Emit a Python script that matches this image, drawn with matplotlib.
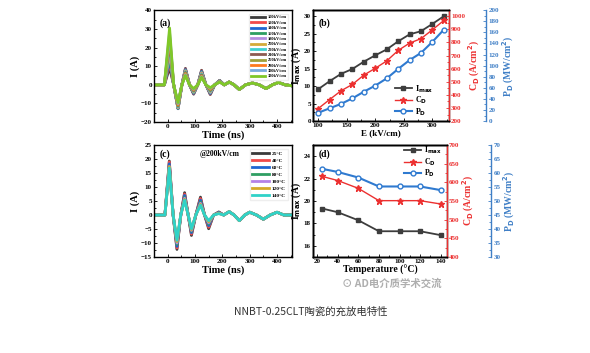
import numpy as np
import matplotlib
matplotlib.use('Agg')
import matplotlib.pyplot as plt
from matplotlib.lines import Line2D
from matplotlib.ticker import MultipleLocator

plt.rcParams['font.family'] = ['Liberation Serif', 'DejaVu Serif']
plt.rcParams['font.weight'] = 'bold'
plt.rcParams['axes.labelweight'] = 'bold'

# ---- panel (a): discharge waveforms at different fields ----
fields = ['100kV/cm', '120kV/cm', '140kV/cm', '160kV/cm', '180kV/cm', '200kV/cm',
          '220kV/cm', '240kV/cm', '260kV/cm', '280kV/cm', '300kV/cm', '320kV/cm']
colors_a = ['#3a3a3a', '#f04a4a', '#1f66d0', '#2e9e62', '#b48ee0', '#d4aa3a',
            '#40d0d0', '#8c5a50', '#a0a03a', '#ff7a1e', '#78aadc', '#80c828']
# extremes of each waveform (peak1, trough1, peak2, trough2, peak3, trough3, peak4)
ext_a = [
    [9.3, -12.7, 8.8, -5.0, 7.8, -5.2, 2.4],
    [11.5, -12.8, 8.5, -4.8, 7.5, -5.0, 2.3],
    [13.5, -12.8, 8.2, -4.6, 7.2, -4.7, 2.2],
    [15.0, -12.6, 7.9, -4.3, 6.9, -4.4, 2.2],
    [17.2, -12.4, 7.6, -4.0, 6.5, -4.1, 2.1],
    [19.0, -12.1, 7.3, -3.8, 6.1, -3.7, 2.0],
    [20.6, -11.8, 7.0, -3.5, 5.7, -3.4, 1.9],
    [23.0, -11.4, 6.6, -3.2, 5.3, -3.0, 1.8],
    [25.0, -11.0, 6.2, -2.9, 4.9, -2.6, 1.7],
    [26.0, -10.5, 5.8, -2.6, 4.6, -2.2, 1.6],
    [28.0, -10.0, 5.4, -2.3, 4.3, -1.8, 1.6],
    [30.5, -9.5, 5.0, -2.0, 4.0, -1.5, 1.5],
]
t_ext_a = [7, 38, 65, 95, 124, 156, 190]
t_zero_a = [-12, 22, 52, 80, 110, 140, 172, 207]
tail_t_a = [225, 243, 262, 285, 310, 335, 360, 383, 405, 430, 455]
tail_v_a = [1.5, 0, -2.5, 0, 1.0, 0, -2.0, 0, 1.3, 0, -0.5]

# ---- panel (b) ----
E = [100, 120, 140, 160, 180, 200, 220, 240, 260, 280, 300, 320]
Imax_b = [9.1, 11.4, 13.5, 14.9, 17.0, 18.8, 20.5, 22.8, 24.8, 25.7, 27.8, 30.0]
CD_b = [295, 364, 431, 480, 551, 603, 659, 739, 795, 829, 897, 968]
PD_b = [15, 23, 31, 41, 53, 64, 77, 94, 110, 123, 143, 165]

# ---- panel (c): waveforms at different temperatures ----
temps = ['25°C', '40°C', '60°C', '80°C', '100°C', '120°C', '140°C']
colors_c = ['#3a3a3a', '#f04a4a', '#1f66d0', '#2e9e62', '#b482e6', '#d4aa28', '#30d2c8']
ext_c = [
    [19.3, -12.3, 8.0, -7.3, 6.4, -4.9, 1.1],
    [19.0, -11.8, 7.5, -6.8, 5.9, -4.4, 1.0],
    [18.3, -11.2, 7.0, -6.3, 5.3, -3.8, 0.9],
    [17.3, -10.5, 6.3, -5.8, 4.6, -3.2, 0.8],
    [17.3, -10.0, 6.0, -5.5, 4.2, -2.8, 0.7],
    [17.3, -9.5, 5.6, -5.2, 3.8, -2.4, 0.6],
    [16.8, -9.0, 5.3, -4.9, 3.5, -2.0, 0.5],
]
t_ext_c = [6, 34, 62, 87, 120, 150, 187]
t_zero_c = [-10, 20, 48, 75, 103, 135, 168, 205]
tail_t_c = [225, 243, 262, 282, 300, 325, 350, 375, 400, 425, 455]
tail_v_c = [1.2, 0, -2.0, 0, 1.0, 0, -1.5, 0, 1.0, 0, 0]

# ---- panel (d) ----
T = [25, 40, 60, 80, 100, 120, 140]
Imax_d = [19.33, 19.0, 18.28, 17.3, 17.3, 17.3, 16.95]
CD_d = [616, 605, 584, 551, 551, 551, 542]
PD_d = [61.5, 60.4, 58.4, 55.2, 55.2, 55.2, 53.9]

RED = '#ec3030'
BLUE = '#2f7ad0'
BLUE_AX = '#3f7fc6'
TS = 5


def waveform(t_ext, t_zero, ext, tail_t, tail_v, t0=-50):
    t = [t0, t_zero[0]]
    v = [0, 0]
    for i in range(len(t_ext)):
        t += [t_ext[i], t_zero[i + 1]]
        v += [ext[i], 0]
    return t + tail_t, v + tail_v


def style(ax, labelcolor='black'):
    ax.tick_params(which='both', direction='in', labelsize=TS, pad=1.5,
                   colors=labelcolor, width=0.6)
    ax.tick_params(which='major', length=2.5)
    ax.tick_params(which='minor', length=1.5)
    for s in ax.spines.values():
        s.set_linewidth(1.0)


def add_lines(ax, ax2, ax3, x, i_vals, c_vals, p_vals):
    ax.plot(x, i_vals, color='#3d3d3d', lw=1.3, marker='s', ms=3.3)
    ax2.plot(x, c_vals, color=RED, lw=1.0, marker='*', ms=4.5)
    ax3.plot(x, p_vals, color=BLUE, lw=1.5, marker='o', ms=3.5, mfc='white', mew=1.0)


def legend_handles():
    return [Line2D([], [], color='#3d3d3d', lw=1.3, marker='s', ms=3.3),
            Line2D([], [], color=RED, lw=1.0, marker='*', ms=4.5),
            Line2D([], [], color=BLUE, lw=1.5, marker='o', ms=3.5, mfc='white', mew=1.0)]


leg_labels = [r'I$_{\mathbf{max}}$', r'C$_{\mathbf{D}}$', r'P$_{\mathbf{D}}$']

fig = plt.figure(figsize=(5.9, 3.53), dpi=100)

# (a)
ax_a = fig.add_axes([0.261, 0.654, 0.234, 0.317])
for i in range(len(fields)):
    t, v = waveform(t_ext_a, t_zero_a, ext_a[i], tail_t_a, tail_v_a)
    ax_a.plot(t, v, color=colors_a[i], lw=2.0, label=fields[i])
ax_a.set_xlim(-50, 455)
ax_a.set_ylim(-20, 40)
ax_a.xaxis.set_major_locator(MultipleLocator(100))
ax_a.xaxis.set_minor_locator(MultipleLocator(50))
ax_a.yaxis.set_major_locator(MultipleLocator(10))
ax_a.yaxis.set_minor_locator(MultipleLocator(5))
style(ax_a)
ax_a.set_xlabel('Time (ns)', fontsize=7.5, labelpad=1)
ax_a.set_ylabel('I (A)', fontsize=7.5, labelpad=1)
ax_a.text(0.04, 0.93, '(a)', transform=ax_a.transAxes, fontsize=7, va='top')
ax_a.legend(loc='upper right', fontsize=3.2, handlelength=3.2, handletextpad=0.5,
            labelspacing=0.28, borderpad=0.4, frameon=True, edgecolor='#eeeeee',
            fancybox=False, framealpha=1, bbox_to_anchor=(0.99, 0.99))

# (b)
ax_b = fig.add_axes([0.5305, 0.657, 0.2305, 0.314])
ax_b2 = ax_b.twinx()
ax_b3 = ax_b.twinx()
ax_b3.spines['right'].set_position(('outward', 27))
add_lines(ax_b, ax_b2, ax_b3, E, Imax_b, CD_b, PD_b)
ax_b.set_xlim(91, 329)
ax_b.set_ylim(0, 31.7)
ax_b2.set_ylim(200, 1046)
ax_b3.set_ylim(0, 200)
ax_b.xaxis.set_major_locator(MultipleLocator(50))
ax_b.xaxis.set_minor_locator(MultipleLocator(25))
ax_b.yaxis.set_major_locator(MultipleLocator(5))
ax_b.yaxis.set_minor_locator(MultipleLocator(2.5))
ax_b2.yaxis.set_major_locator(MultipleLocator(100))
ax_b2.yaxis.set_minor_locator(MultipleLocator(50))
ax_b3.yaxis.set_major_locator(MultipleLocator(20))
ax_b3.yaxis.set_minor_locator(MultipleLocator(10))
style(ax_b)
style(ax_b2, RED)
style(ax_b3, BLUE_AX)
ax_b2.spines['right'].set_color(RED)
ax_b3.spines['right'].set_color(BLUE_AX)
ax_b.set_xlabel('E (kV/cm)', fontsize=6.5, labelpad=1)
ax_b.set_ylabel(r'I$_{\mathbf{max}}$ (A)', fontsize=7, labelpad=1)
ax_b2.set_ylabel(r'C$_{\mathbf{D}}$ (A/cm$^{\mathbf{2}}$)', fontsize=7, color=RED, labelpad=1)
ax_b3.set_ylabel(r'P$_{\mathbf{D}}$ (MW/cm$^{\mathbf{2}}$)', fontsize=7, color=BLUE_AX, labelpad=1)
ax_b.text(0.04, 0.93, '(b)', transform=ax_b.transAxes, fontsize=7, va='top')
ax_b3.legend(legend_handles(), leg_labels,
             loc='lower right', bbox_to_anchor=(0.93, -0.02), fontsize=5.8, frameon=False,
             handlelength=2.2, handletextpad=0.4, labelspacing=0.0, borderpad=0.2)

# (c)
ax_c = fig.add_axes([0.261, 0.272, 0.234, 0.317])
for i in range(len(temps)):
    t, v = waveform(t_ext_c, t_zero_c, ext_c[i], tail_t_c, tail_v_c)
    ax_c.plot(t, v, color=colors_c[i], lw=2.0, label=temps[i])
ax_c.set_xlim(-50, 455)
ax_c.set_ylim(-15, 25)
ax_c.xaxis.set_major_locator(MultipleLocator(100))
ax_c.xaxis.set_minor_locator(MultipleLocator(50))
ax_c.yaxis.set_major_locator(MultipleLocator(5))
ax_c.yaxis.set_minor_locator(MultipleLocator(2.5))
style(ax_c)
ax_c.set_xlabel('Time (ns)', fontsize=7.5, labelpad=1)
ax_c.set_ylabel('I (A)', fontsize=7.5, labelpad=1)
ax_c.text(0.04, 0.96, '(c)', transform=ax_c.transAxes, fontsize=7, va='top')
ax_c.text(0.33, 0.96, '@200kV/cm', transform=ax_c.transAxes, fontsize=5.5, va='top')
ax_c.legend(loc='upper right', fontsize=3.8, handlelength=3.2, handletextpad=0.5,
            labelspacing=0.45, borderpad=0.4, frameon=True, edgecolor='#eeeeee',
            fancybox=False, framealpha=1, bbox_to_anchor=(0.99, 0.99))

# (d)
ax_d = fig.add_axes([0.5305, 0.272, 0.227, 0.317])
ax_d2 = ax_d.twinx()
ax_d3 = ax_d.twinx()
ax_d3.spines['right'].set_position(('outward', 32))
add_lines(ax_d, ax_d2, ax_d3, T, Imax_d, CD_d, PD_d)
ax_d.set_xlim(16, 146)
ax_d.set_ylim(15, 25)
ax_d2.set_ylim(400, 700)
ax_d3.set_ylim(30, 70)
ax_d.xaxis.set_major_locator(MultipleLocator(20))
ax_d.xaxis.set_minor_locator(MultipleLocator(10))
ax_d.yaxis.set_major_locator(MultipleLocator(2))
ax_d.yaxis.set_minor_locator(MultipleLocator(1))
ax_d2.yaxis.set_major_locator(MultipleLocator(50))
ax_d2.yaxis.set_minor_locator(MultipleLocator(25))
ax_d3.yaxis.set_major_locator(MultipleLocator(5))
ax_d3.yaxis.set_minor_locator(MultipleLocator(2.5))
style(ax_d)
style(ax_d2, RED)
style(ax_d3, BLUE_AX)
ax_d2.spines['right'].set_color(RED)
ax_d3.spines['right'].set_color(BLUE_AX)
ax_d.set_xlabel('Temperature (°C)', fontsize=7, labelpad=1)
ax_d.set_ylabel(r'I$_{\mathbf{max}}$ (A)', fontsize=7, labelpad=1)
ax_d2.set_ylabel(r'C$_{\mathbf{D}}$ (A/cm$^{\mathbf{2}}$)', fontsize=7, color=RED, labelpad=1)
ax_d3.set_ylabel(r'P$_{\mathbf{D}}$ (MW/cm$^{\mathbf{2}}$)', fontsize=7, color=BLUE_AX, labelpad=1)
ax_d.text(0.04, 0.96, '(d)', transform=ax_d.transAxes, fontsize=7, va='top')
ax_d3.legend(legend_handles(), leg_labels,
             loc='upper right', bbox_to_anchor=(1.0, 1.05), fontsize=5.5, frameon=False,
             handlelength=2.2, handletextpad=0.4, labelspacing=0.0, borderpad=0.2)

# watermark and caption
fig.text(0.58, 0.198, '⊙ AD电介质学术交流', fontsize=7.5, color='#9a9a9a', alpha=0.8,
         family=['Noto Sans CJK SC', 'DejaVu Sans'], ha='left', va='center')
fig.text(0.527, 0.116, 'NNBT-0.25CLT陶瓷的充放电特性', fontsize=7.5, color='#333333',
         family=['Noto Sans CJK SC', 'DejaVu Sans'], weight='normal', ha='center', va='center')

fig.savefig('out.png', dpi=100)
